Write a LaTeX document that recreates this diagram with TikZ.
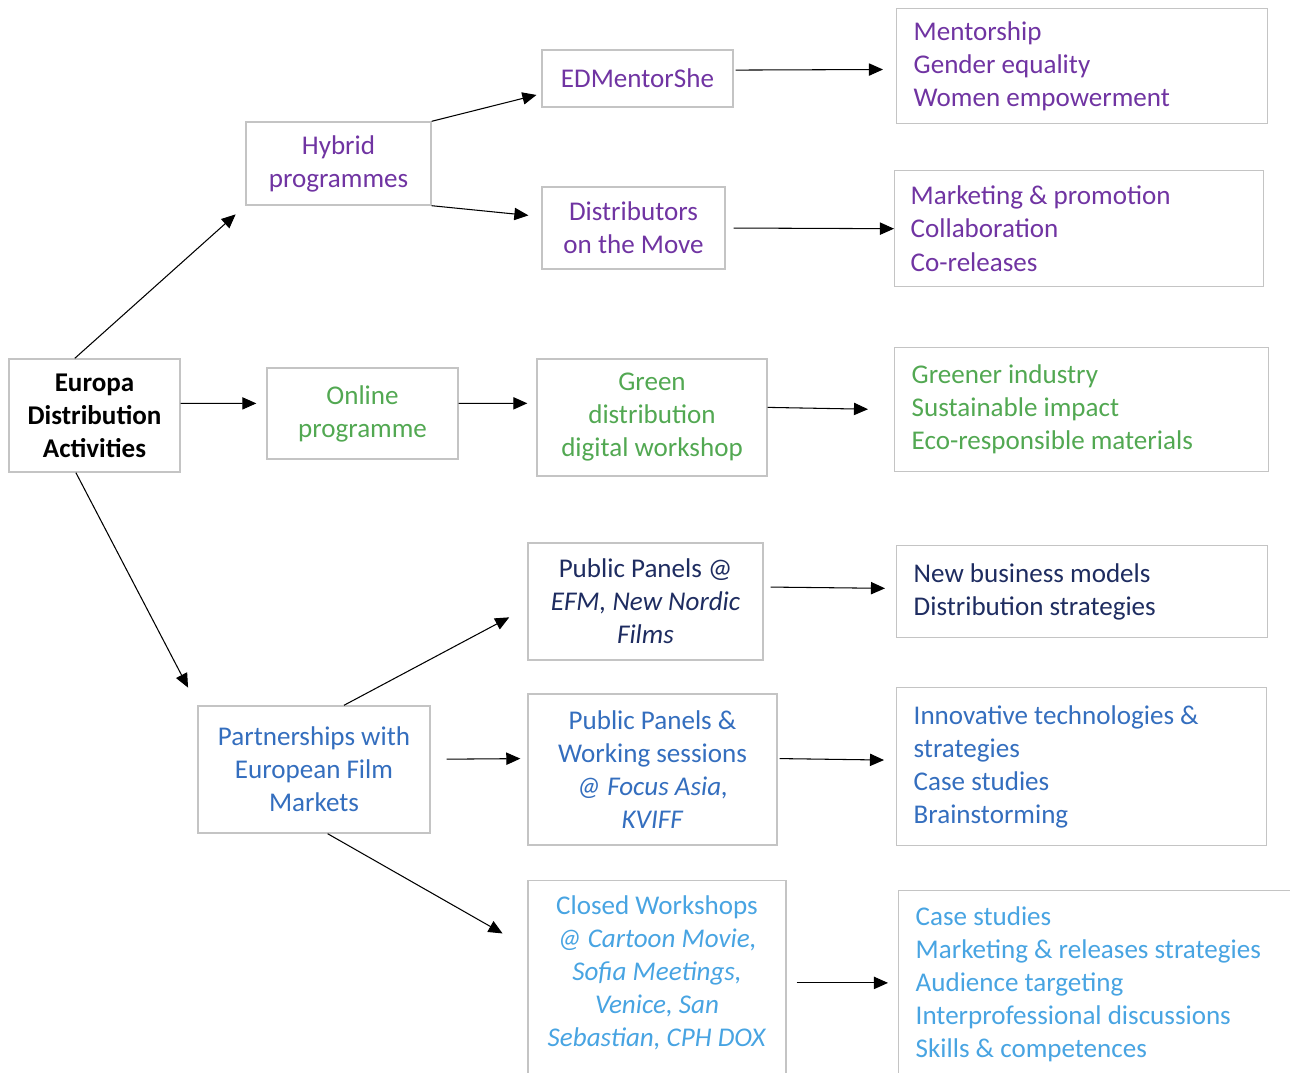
\documentclass[tikz,border=0pt]{standalone}
\usepackage{fontspec}
\setmainfont{Carlito}
\usepackage{tikz}
\usetikzlibrary{arrows.meta}

\definecolor{boxgray}{RGB}{196,196,196}
\definecolor{edpurple}{RGB}{112,52,162}
\definecolor{edgreen}{RGB}{82,168,82}
\definecolor{ednavy}{RGB}{30,44,96}
\definecolor{edblue}{RGB}{52,110,190}
\definecolor{edsky}{RGB}{72,164,226}

\begin{document}
\begin{tikzpicture}
    [
    x=0.02cm, y=-0.02cm,
    box/.style={draw=boxgray, line width=0.8pt, align=flush center, inner sep=0pt,
      font=\fontsize{15.4}{18.8}\selectfont},
    list/.style={box, anchor=north west, align=flush left, inner xsep=0.34cm},
    link/.style={-{Triangle[length=8pt,width=7pt]}, line width=0.6pt},
    ]
    \useasboundingbox (0,0) rectangle (1290,1072);
    \clip (0,0) rectangle (1290,1072);

    \node (europa) at (94.5,415.5) [box, minimum width=3.42cm, minimum height=2.26cm,
      font=\fontsize{15.4}{18.8}\selectfont\bfseries] {Europa\\Distribution\\Activities};

    % hybrid branch
    \node (hybrid) at (338.5,163.5) [box, text=edpurple, minimum width=3.7cm, minimum height=1.66cm] {Hybrid\\programmes};
    \node (mentor) at (637.5,78.5) [box, text=edpurple, minimum width=3.82cm, minimum height=1.14cm] {EDMentorShe};
    \node (dist) at (633.5,228) [box, text=edpurple, minimum width=3.66cm, minimum height=1.64cm] {Distributors\\on the Move};
    \node (mentlist) at (896,8) [list, text=edpurple, text width=6.74cm, minimum height=2.3cm] {Mentorship\\Gender equality\\Women empowerment};
    \node (mktlist) at (894,170) [list, text=edpurple, inner xsep=0.32cm, text width=6.74cm, minimum height=2.32cm] {Marketing \& promotion\\Collaboration\\Co-releases};

    % online branch
    \node (online) at (362.5,413.5) [box, text=edgreen, minimum width=3.82cm, minimum height=1.82cm] {Online\\programme};
    \node (green) at (652,417.5) [box, text=edgreen, minimum width=4.6cm, minimum height=2.34cm] {Green\\distribution\\digital workshop};
    \node (greenlist) at (894,347) [list, text=edgreen, text width=6.8cm, minimum height=2.48cm] {Greener industry\\Sustainable impact\\Eco-responsible materials};

    % market partnerships
    \node (partner) at (314,769.5) [box, text=edblue, minimum width=4.64cm, minimum height=2.54cm] {Partnerships with\\European Film\\Markets};
    \node (panelsA) at (645.5,601.5) [box, text=ednavy, minimum width=4.7cm, minimum height=2.34cm] {Public Panels @\\\textit{EFM, New Nordic}\\\textit{Films}};
    \node (bizlist) at (896,545) [list, text=ednavy, text width=6.74cm, minimum height=1.84cm] {New business models\\Distribution strategies};
    \node (panelsB) at (652.5,769.5) [box, text=edblue, minimum width=4.98cm, minimum height=3.02cm] {Public Panels \&\\Working sessions\\\textit{@ Focus Asia,}\\\textit{KVIFF}};
    \node (innolist) at (896,687) [list, text=edblue, text width=6.72cm, minimum height=3.16cm] {Innovative technologies \&\\strategies\\Case studies\\Brainstorming};
    \node (closed) at (657,880) [box, text=edsky, anchor=north, inner xsep=0.24cm, inner ysep=0.3cm]
      {\parbox[c][3.76cm][t]{4.68cm}{\centering Closed Workshops\\\textit{@ Cartoon Movie,}\\\textit{Sofia Meetings,}\\\textit{Venice, San}\\\textit{Sebastian, CPH DOX}}};
    \node (caselist) at (898,890) [list, text=edsky, inner ysep=0.32cm]
      {\parbox[c][3.72cm][t]{7.5cm}{\raggedright Case studies\\Marketing \& releases strategies\\Audience targeting\\Interprofessional discussions\\Skills \& competences}};

    \draw [link, shorten >=0.26cm] (europa.109) to (hybrid.south west);
    \draw [link, shorten >=0.2cm] (europa.8) to (online.174);
    \draw [link, shorten >=0.4cm] (europa.252) to (partner.north west);
    \draw [link, shorten >=0.1cm] (hybrid.north east) to (mentor.189);
    \draw [link, shorten >=0.26cm] (hybrid.south east) to (dist.173);
    \draw [link, shorten <=0.04cm, shorten >=0.26cm] (mentor.5) to (mentlist.181);
    \draw [link, shorten <=0.16cm] (dist.east) to (mktlist.west);
    \draw [link, shorten >=0.18cm] (online.6) to (green.173);
    \draw [link, shorten >=0.52cm] (green.5) to (greenlist.west);
    \draw [link, shorten <=0.14cm, shorten >=0.22cm] (panelsA.7) to (bizlist.179);
    \draw [link, shorten >=0.41cm] (partner.65) to (panelsA.183);
    \draw [link, shorten <=0.32cm, shorten >=0.14cm] (partner.5) to (panelsB.175);
    \draw [link, shorten <=0.04cm, shorten >=0.24cm] (panelsB.5) to (innolist.178);
    \draw [link, shorten >=0.57cm] (partner.282) to (closed.162);
    \draw [link, shorten <=0.2cm, shorten >=0.2cm] (closed.3) to (closed.3 -| caselist.west);
\end{tikzpicture}
\end{document}
